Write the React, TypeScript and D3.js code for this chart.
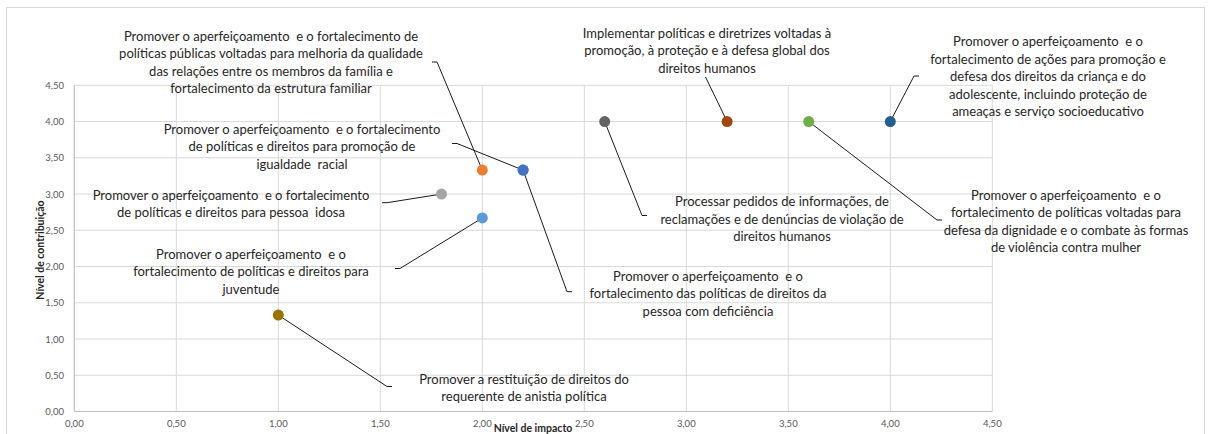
import React from 'react'
import * as d3 from 'd3'

// data
const labelLines: string[][] = [
  ['Promover o aperfeiçoamento  e o fortalecimento de', 'políticas públicas voltadas para melhoria da qualidade', 'das relações entre os membros da família e', 'fortalecimento da estrutura familiar'],
  ['Promover o aperfeiçoamento  e o fortalecimento', 'de políticas e direitos para promoção de', 'igualdade  racial'],
  ['Promover o aperfeiçoamento  e o fortalecimento', 'de políticas e direitos para pessoa  idosa'],
  ['Promover o aperfeiçoamento  e o', 'fortalecimento de políticas e direitos para', 'juventude'],
  ['Promover o aperfeiçoamento  e o', 'fortalecimento das políticas de direitos da', 'pessoa com deficiência'],
  ['Promover a restituição de direitos do', 'requerente de anistia política'],
  ['Processar pedidos de informações, de', 'reclamações e de denúncias de violação de', 'direitos humanos'],
  ['Implementar políticas e diretrizes voltadas à', 'promoção, à proteção e à defesa global dos', 'direitos humanos'],
  ['Promover o aperfeiçoamento  e o', 'fortalecimento de ações para promoção e', 'defesa dos direitos da criança e do', 'adolescente, incluindo proteção de', 'ameaças e serviço socioeducativo'],
  ['Promover o aperfeiçoamento  e o', 'fortalecimento de políticas voltadas para', 'defesa da dignidade e o combate às formas', 'de violência contra mulher'],
]
const impact = [2.0, 2.2, 1.8, 2.0, 2.2, 1.0, 2.6, 3.2, 4.0, 3.6]
const contribution = [3.33, 3.33, 3.0, 2.67, 3.33, 1.33, 4.0, 4.0, 4.0, 4.0]
const colors = ['#ED7D31', '#4472C4', '#A5A5A5', '#5B9BD5', '#4472C4', '#997300', '#636363', '#9E480E', '#255E91', '#70AD47']
const ticks = [0, 0.5, 1, 1.5, 2, 2.5, 3, 3.5, 4, 4.5]

// label placement (pixels): center x, center y of block, leader end, tick length
const labelLayout = [
  { cx: 271, cy: 62, lx: 437, ly: 62, tick: -5 },
  { cx: 302, cy: 146, lx: 457, ly: 143.5, tick: -5 },
  { cx: 231, cy: 203.5, lx: 387, ly: 202.7, tick: -5 },
  { cx: 251, cy: 271, lx: 400, ly: 268.5, tick: -5 },
  { cx: 708, cy: 293.3, lx: 567, ly: 291.7, tick: 5 },
  { cx: 524, cy: 387.5, lx: 387, ly: 386.5, tick: 5 },
  { cx: 782, cy: 218.5, lx: 642, ly: 215.5, tick: 5 },
  { cx: 707, cy: 50, lx: 705.5, ly: 77, tick: 0 },
  { cx: 1048, cy: 76, lx: 914, ly: 76, tick: 5 },
  { cx: 1066, cy: 221, lx: 937, ly: 220, tick: 5 },
]

const W = 1211
const H = 434
const lineH = 17.5
const font = 'Lato, "Open Sans", sans-serif'

const App: React.FC = () => {
  const x = d3.scaleLinear().domain([0, 4.5]).range([74.3, 992.3])
  const y = d3.scaleLinear().domain([0, 4.5]).range([411.5, 85.3])
  const fmt = (v: number) => d3.format('.2f')(v).replace('.', ',')

  return (
    <div style={{ position: 'absolute', left: 0, top: 0 }}>
      <svg width={W} height={H} style={{ display: 'block', background: '#fff' }}>
        <rect x={6.5} y={7.5} width={1198} height={440} fill="none" stroke="#D9D9D9" />
        {/* grid */}
        {ticks.map(t => (
          <line key={'gy' + t} x1={x(0)} x2={x(4.5)} y1={y(t)} y2={y(t)} stroke="#D9D9D9" strokeWidth={1} />
        ))}
        {ticks.map(t => (
          <line key={'gx' + t} x1={x(t)} x2={x(t)} y1={y(0)} y2={y(4.5)} stroke="#D9D9D9" strokeWidth={1} />
        ))}
        <line x1={x(0)} x2={x(4.5)} y1={y(0)} y2={y(0)} stroke="#BFBFBF" />
        <line x1={x(0)} x2={x(0)} y1={y(0)} y2={y(4.5)} stroke="#BFBFBF" />
        {/* tick labels */}
        {ticks.map(t => (
          <text key={'ty' + t} x={64} y={y(t)} dominantBaseline="central" textAnchor="end" fontSize={9.5} fill="#595959" fontFamily={font}>
            {fmt(t)}
          </text>
        ))}
        {ticks.map(t => (
          <text key={'tx' + t} x={x(t)} y={423} dominantBaseline="central" textAnchor="middle" fontSize={9.5} fill="#595959" fontFamily={font}>
            {fmt(t)}
          </text>
        ))}
        <text x={533} y={428} dominantBaseline="central" textAnchor="middle" fontSize={10.5} fontWeight="bold" fill="#262626" fontFamily={font}>
          Nível de impacto
        </text>
        <text transform="translate(40,250) rotate(-90)" dominantBaseline="central" textAnchor="middle" fontSize={10.5} fontWeight="bold" fill="#262626" fontFamily={font}>
          Nível de contribuição
        </text>
        {/* leader lines */}
        {labelLayout.map((l, i) => (
          <polyline
            key={'ld' + i}
            points={`${x(impact[i])},${y(contribution[i])} ${l.lx},${l.ly} ${l.lx + l.tick},${l.ly}`}
            fill="none"
            stroke="#1a1a1a"
            strokeWidth={1}
          />
        ))}
        {/* points */}
        {impact.map((v, i) => (
          <circle key={'p' + i} cx={x(v)} cy={y(contribution[i])} r={5.5} fill={colors[i]} />
        ))}
        {/* labels */}
        {labelLines.map((lines, i) => {
          const l = labelLayout[i]
          const top = l.cy - ((lines.length - 1) * lineH) / 2
          return (
            <text key={'lb' + i} textAnchor="middle" fontSize={13} fill="#262626" fontFamily={font} style={{ whiteSpace: 'pre' }}>
              {lines.map((s, j) => (
                <tspan key={j} x={l.cx} y={top + j * lineH} dominantBaseline="central">
                  {s}
                </tspan>
              ))}
            </text>
          )
        })}
      </svg>
    </div>
  )
}

export default App
